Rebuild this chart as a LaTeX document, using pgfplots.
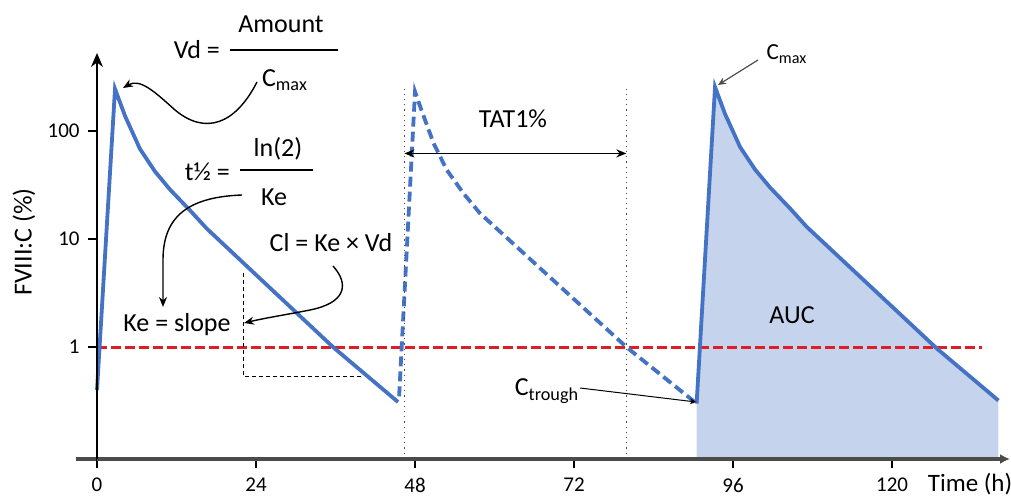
\documentclass[border=0pt]{standalone}
\usepackage{pgfplots}
\pgfplotsset{compat=1.18}
\usepackage{fontspec}
\setmainfont{Carlito}
\usetikzlibrary{arrows.meta}
\definecolor{pkblue}{RGB}{68,114,196}
\definecolor{aucfill}{RGB}{197,211,236}
\definecolor{limred}{RGB}{222,30,36}
\definecolor{axisgray}{RGB}{75,75,75}
\tikzset{ylabelfont/.style={anchor=east, inner sep=0pt, xshift=-8.5pt, font=\fontsize{10.5}{12}\selectfont}}

\begin{document}
\begin{tikzpicture}
\useasboundingbox (0,0) rectangle (505.5pt,248.5pt);
\begin{axis}[
  at={(48.5pt,19pt)}, anchor=south west,
  scale only axis, width=456.5pt, height=203pt,
  xmin=0, xmax=137.8, ymode=log, ymin=0.092, ymax=527,
  axis x line=bottom, axis y line=left,
  axis on top, clip=false,
  x axis line style={draw=axisgray, line width=2.2pt, -{Latex[length=5pt,width=5pt]}},
  y axis line style={black, line width=0.8pt, -{Stealth[length=7pt,width=6pt]}},
  xtick={0,24,48,72,96,120},
  ytick={1,10,100},
  yticklabels={},
  yminorticks=false,
  tick align=outside,
  major tick length=4.5pt,
  tick style={black, line width=0.8pt},
  tick label style={font=\fontsize{10.5}{12}\selectfont},
  xticklabel shift=1.5pt,
  /pgf/number format/assume math mode=true,
]
% area under the third dose
\addplot[fill=aucfill, draw=none] coordinates {
  (90.5,0.30) (93.28,255) (94.79,143.7) (97.06,71.1) (99.32,44.0) (101.58,30.0)
  (104.6,19.2) (107.1,13.0) (126.75,0.97) (136.05,0.32)
  (136.05,0.092) (90.5,0.092)};
% 1 % threshold
\addplot[limred, line width=1.5pt, dash pattern=on 5pt off 2pt] coordinates {(0,1) (133.6,1)};
% first dose
\addplot[pkblue, line width=1.9pt] coordinates {
  (0,0.40) (2.72,245) (4.23,137.7) (6.49,68.1) (8.75,42.2) (11.02,28.7)
  (14.04,18.4) (16.56,12.5) (35.62,1.0) (45.43,0.31)};
% second dose (dashed)
\addplot[pkblue, line width=1.9pt, dash pattern=on 5pt off 2.5pt] coordinates {
  (45.6,0.35) (48.0,231) (49.0,154) (50.8,77) (52.8,43.5) (55.3,26.5)
  (57.8,17.3) (79.9,1.0) (90.5,0.30)};
% third dose
\addplot[pkblue, line width=1.9pt] coordinates {
  (90.5,0.30) (93.28,255) (94.79,143.7) (97.06,71.1) (99.32,44.0) (101.58,30.0)
  (104.6,19.2) (107.1,13.0) (126.75,0.97) (136.05,0.32)};
% concentration tick labels
\node[ylabelfont] at (axis cs:0,1) {1};
\node[ylabelfont] at (axis cs:0,10) {10};
\node[ylabelfont] at (axis cs:0,100) {100};
% left stub of the time axis
\draw[axisgray, line width=2.2pt] (axis cs:-3.2,0.092) -- (axis cs:0,0.092);
% TAT window
\draw[black!70, dotted, line width=0.6pt] (axis cs:46.4,0.092) -- (axis cs:46.4,267);
\draw[black!70, dotted, line width=0.6pt] (axis cs:79.9,0.092) -- (axis cs:79.9,267);
\draw[black, line width=0.8pt, {Stealth[length=5pt,width=4pt]}-{Stealth[length=5pt,width=4pt]}]
  (axis cs:46.4,62) -- (axis cs:79.9,62);
% slope triangle
\draw[black, line width=0.6pt, dash pattern=on 2pt off 1.5pt]
  (axis cs:22.1,4.84) -- (axis cs:22.1,0.53) -- (axis cs:40.1,0.53);
\end{axis}

\begin{scope}[x=0.5pt, y=-0.5pt, yshift=248.5pt, font=\fontsize{13}{15}\selectfont]
  \node[rotate=90] at (24,242) {FVIII:C (\%)};
  \node[font=\fontsize{12.5}{15}\selectfont] at (970,484) {Time (h)};
  % volume of distribution
  \node[anchor=east] at (227,50) {Vd =};
  \draw[line width=0.6pt] (230,50) -- (338,50);
  \node at (281,24) {Amount};
  \node at (285,80) {C\textsubscript{max}};
  \draw[line width=0.7pt, -{Stealth[length=5pt,width=4pt]}]
    (257,82) .. controls (235,125) and (205,135) .. (175,110)
    .. controls (155,92) and (140,78) .. (123,88);
  % half-life
  \node[anchor=east] at (237,172) {t½ =};
  \draw[line width=0.6pt] (240,170) -- (313,170);
  \node at (278,149) {ln(2)};
  \node at (274,197) {Ke};
  \draw[line width=0.7pt, -{Stealth[length=5pt,width=4pt]}]
    (242,195) .. controls (190,197) and (163,215) .. (163,260) -- (163,307);
  \node at (177,325) {Ke = slope};
  % clearance
  \node at (331,243) {Cl = Ke × Vd};
  \draw[line width=0.7pt, -{Stealth[length=5pt,width=4pt]}]
    (333,266) .. controls (350,285) and (345,303) .. (310,310)
    .. controls (290,314) and (265,318) .. (244,323);
  \node at (513,119) {TAT1\%};
  % trough and peak
  \node at (547,391) {C\textsubscript{trough}};
  \draw[line width=0.5pt, -{Stealth[length=3pt,width=3pt]}] (580,388) -- (696,402);
  \node[font=\fontsize{11.5}{14}\selectfont] at (787,54) {C\textsubscript{max}};
  \draw[black!70, line width=0.6pt, -{Stealth[length=4pt,width=3.5pt]}] (758,60) -- (718,85);
  \node at (792,315) {AUC};
\end{scope}
\end{tikzpicture}
\end{document}
